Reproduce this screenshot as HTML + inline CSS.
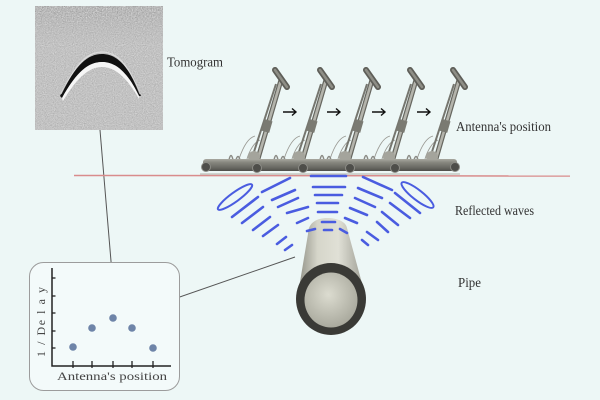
<!DOCTYPE html>
<html><head><meta charset="utf-8">
<style>html,body{margin:0;padding:0;background:#edf7f6;}svg{display:block}</style>
</head>
<body>
<svg width="600" height="400" viewBox="0 0 600 400" xmlns="http://www.w3.org/2000/svg">
<defs>
  <filter id="n" x="0" y="0" width="1" height="1" color-interpolation-filters="sRGB">
    <feTurbulence type="fractalNoise" baseFrequency="0.9" numOctaves="2" seed="7" result="t"/>
    <feColorMatrix in="t" type="matrix" values="0.33 0.33 0.33 0 0 0.33 0.33 0.33 0 0 0.33 0.33 0.33 0 0 0 0 0 0 1"/>
    <feComponentTransfer>
      <feFuncR type="linear" slope="0.45" intercept="0.54"/>
      <feFuncG type="linear" slope="0.45" intercept="0.54"/>
      <feFuncB type="linear" slope="0.45" intercept="0.54"/>
    </feComponentTransfer>
  </filter>
  <filter id="n2" x="0" y="0" width="1" height="1" color-interpolation-filters="sRGB">
    <feTurbulence type="fractalNoise" baseFrequency="0.8" numOctaves="2" seed="3" result="t"/>
    <feColorMatrix in="t" type="matrix" values="0.33 0.33 0.33 0 0 0.33 0.33 0.33 0 0 0.33 0.33 0.33 0 0 0 0 0 0 1"/>
    <feComponentTransfer>
      <feFuncR type="linear" slope="1.2" intercept="0.1"/>
      <feFuncG type="linear" slope="1.2" intercept="0.1"/>
      <feFuncB type="linear" slope="1.2" intercept="0.1"/>
    </feComponentTransfer>
  </filter>
  <linearGradient id="topm" x1="0" y1="0" x2="0" y2="1">
    <stop offset="0" stop-color="#fff" stop-opacity="0.6"/>
    <stop offset="0.3" stop-color="#fff" stop-opacity="0"/>
  </linearGradient>
  <mask id="tm"><rect x="35" y="6" width="128" height="124" fill="url(#topm)"/></mask>
  <linearGradient id="pb" gradientUnits="userSpaceOnUse" x1="297" y1="0" x2="366" y2="0">
    <stop offset="0" stop-color="#8c8c82"/>
    <stop offset="0.3" stop-color="#d6d6ca"/>
    <stop offset="0.6" stop-color="#e0e0d6"/>
    <stop offset="1" stop-color="#98988e"/>
  </linearGradient>
  <radialGradient id="pin" cx="0.45" cy="0.4" r="0.6">
    <stop offset="0" stop-color="#dcdcd0"/>
    <stop offset="1" stop-color="#aaaa9e"/>
  </radialGradient>
  <linearGradient id="deck" x1="0" y1="0" x2="0" y2="1">
    <stop offset="0" stop-color="#a8a8a0"/>
    <stop offset="0.3" stop-color="#86867e"/>
    <stop offset="0.7" stop-color="#6a6a64"/>
    <stop offset="1" stop-color="#4e4e4a"/>
  </linearGradient>
  <g id="u">
    <path d="M-2,-26 C-10,-24 -15,-12 -18,-3" stroke="#9a9a94" fill="none" stroke-width="0.9"/>
    <path d="M3,-22 C-3,-20 -8,-10 -10,-3" stroke="#9a9a94" fill="none" stroke-width="0.9"/>
    <path d="M-28,-2 q2,-9 4,0 M-21,-2 q2,-7 4,0" stroke="#8a8a84" fill="none" stroke-width="1.5"/>
    <line x1="-6" y1="-1" x2="19" y2="-78" stroke="#76766f" stroke-width="2"/>
    <line x1="0" y1="0" x2="24" y2="-82" stroke="#66665f" stroke-width="5"/>
    <line x1="0" y1="0" x2="24" y2="-82" stroke="#b4b4ac" stroke-width="2.6"/>
    <rect x="6" y="-42" width="8" height="12" fill="#7a7a72" transform="rotate(16 10 -36)"/>
    <ellipse cx="-3" cy="-5" rx="6" ry="6" fill="#a4a49c"/>
    <line x1="18" y1="-92" x2="30" y2="-75" stroke="#5e5e58" stroke-width="6" stroke-linecap="round"/>
    <line x1="18" y1="-92" x2="30" y2="-75" stroke="#8e8e86" stroke-width="2.5" stroke-linecap="round"/>
  </g>
</defs>

<rect width="600" height="400" fill="#edf7f6"/>

<!-- Tomogram -->
<rect x="35" y="6" width="128" height="124" fill="#c2c2c2"/>
<rect x="35" y="6" width="128" height="124" filter="url(#n)"/>
<rect x="35" y="6" width="128" height="124" filter="url(#n2)" mask="url(#tm)"/>
<path d="M60,96 C76,64 88,54 102,54 C116,54 128,64 141,96 L139,96 C127,71 115,62 102,62 C89,62 77,71 62,98 Z" fill="#111"/>
<path d="M62,98 C77,71 89,62 102,62 C115,62 127,71 139,96 L139,99 C126,76 114,67 102,67 C90,67 78,76 63,101 Z" fill="#f6f6f6"/>
<path d="M61,94 C76,63 88,52 102,52 C116,52 128,63 140,94" stroke="#e8e8e8" stroke-width="1.2" fill="none" opacity="0.7"/>

<!-- leader lines -->
<line x1="100" y1="130" x2="113" y2="285" stroke="#555" stroke-width="1"/>
<line x1="148" y1="308" x2="295" y2="257" stroke="#555" stroke-width="1"/>

<!-- labels -->
<g font-family="Liberation Serif, serif" fill="#333" font-size="14">
  <text x="167" y="66.5" textLength="56" lengthAdjust="spacingAndGlyphs">Tomogram</text>
  <text x="456" y="131" textLength="95" lengthAdjust="spacingAndGlyphs">Antenna's position</text>
  <text x="455" y="215" textLength="79" lengthAdjust="spacingAndGlyphs">Reflected waves</text>
  <text x="458" y="287" textLength="23" lengthAdjust="spacingAndGlyphs">Pipe</text>
</g>

<!-- ground line -->
<line x1="74" y1="175.5" x2="570" y2="176" stroke="#d98c8c" stroke-width="1.5"/>
<line x1="200" y1="174" x2="460" y2="174" stroke="#b0b0a8" stroke-width="1"/>

<!-- cart -->
<use href="#u" x="257" y="162"/>
<use href="#u" x="302" y="162"/>
<use href="#u" x="348" y="162"/>
<use href="#u" x="392" y="162"/>
<use href="#u" x="435" y="162"/>
<rect x="203" y="159" width="254" height="12" rx="3" fill="url(#deck)"/>
<g fill="#4e4e4a" stroke="#8c8c86" stroke-width="1">
  <circle cx="206" cy="167" r="4.5"/>
  <circle cx="257" cy="168" r="4.5"/>
  <circle cx="303" cy="168" r="4.5"/>
  <circle cx="350" cy="168" r="4.5"/>
  <circle cx="395" cy="168" r="4.5"/>
  <circle cx="455" cy="167" r="4.5"/>
</g>

<!-- arrows -->
<g stroke="#111" stroke-width="1.4" fill="none">
  <path d="M283,112 H296 M292,108.5 L296,112 L292,115.5"/>
  <path d="M327,112 H340 M336,108.5 L340,112 L336,115.5"/>
  <path d="M372,112 H385 M381,108.5 L385,112 L381,115.5"/>
  <path d="M417,112 H430 M426,108.5 L430,112 L426,115.5"/>
</g>

<!-- pipe -->
<path d="M297,300 L308,234 C308,222 318,218 327,218 C338,218 346,222 347,228 L366,298 Z" fill="url(#pb)"/>
<ellipse cx="331" cy="299" rx="35" ry="36" fill="#3a3a36"/>
<ellipse cx="331" cy="300" rx="26.5" ry="27.5" fill="url(#pin)"/>

<!-- waves -->
<g stroke="#4a5ce0" stroke-width="2.6" stroke-linecap="round" fill="none">
  <line x1="262" y1="192" x2="290" y2="178"/>
  <line x1="232" y1="217" x2="258" y2="197"/>
  <line x1="272" y1="200" x2="295" y2="190"/>
  <line x1="242" y1="223" x2="263" y2="207"/>
  <line x1="278" y1="207" x2="298" y2="198"/>
  <line x1="253" y1="230" x2="270" y2="217"/>
  <line x1="287" y1="213" x2="308" y2="207"/>
  <line x1="263" y1="236" x2="278" y2="225"/>
  <line x1="297" y1="223" x2="308" y2="218"/>
  <line x1="277" y1="244" x2="286" y2="237"/>
  <line x1="307" y1="231" x2="315" y2="229"/>
  <line x1="285" y1="250" x2="292" y2="245"/>

  <line x1="363" y1="177" x2="392" y2="190"/>
  <line x1="358" y1="188" x2="382" y2="198"/>
  <line x1="355" y1="198" x2="375" y2="207"/>
  <line x1="350" y1="208" x2="367" y2="215"/>
  <line x1="345" y1="218" x2="357" y2="223"/>
  <line x1="340" y1="229" x2="347" y2="233"/>
  <line x1="395" y1="193" x2="420" y2="213"/>
  <line x1="390" y1="203" x2="410" y2="218"/>
  <line x1="382" y1="212" x2="398" y2="225"/>
  <line x1="377" y1="222" x2="388" y2="232"/>
  <line x1="367" y1="232" x2="378" y2="240"/>
  <line x1="362" y1="240" x2="368" y2="245"/>

  <line x1="311" y1="176" x2="346" y2="176"/>
  <line x1="313" y1="187" x2="345" y2="187"/>
  <line x1="315" y1="195" x2="342" y2="195"/>
  <line x1="317" y1="203" x2="338" y2="203"/>
  <line x1="318" y1="212" x2="337" y2="212"/>
  <line x1="322" y1="222" x2="335" y2="222"/>
  <line x1="324" y1="230" x2="332" y2="230"/>

  <ellipse cx="235" cy="197" rx="21" ry="4.5" stroke-width="2" transform="rotate(-36 235 197)"/>
  <ellipse cx="417.5" cy="195" rx="20" ry="5" stroke-width="2" transform="rotate(38 417.5 195)"/>
</g>

<!-- chart -->
<rect x="29.5" y="262.5" width="150" height="128" rx="14" fill="#f3fafa" stroke="#9c9c9c" stroke-width="1"/>
<path d="M52,268 V366 H171" stroke="#222" stroke-width="1.5" fill="none"/>
<g stroke="#222" stroke-width="1.3">
  <line x1="52" y1="278" x2="55.5" y2="278"/>
  <line x1="52" y1="296" x2="55.5" y2="296"/>
  <line x1="52" y1="313" x2="55.5" y2="313"/>
  <line x1="52" y1="331" x2="55.5" y2="331"/>
  <line x1="52" y1="348" x2="55.5" y2="348"/>
  <line x1="73" y1="361" x2="73" y2="368"/>
  <line x1="92" y1="361" x2="92" y2="368"/>
  <line x1="113" y1="361" x2="113" y2="368"/>
  <line x1="132" y1="361" x2="132" y2="368"/>
  <line x1="153" y1="361" x2="153" y2="368"/>
</g>
<g fill="#6e84a8">
  <circle cx="73" cy="347" r="3.8"/>
  <circle cx="92" cy="328" r="3.8"/>
  <circle cx="113" cy="318" r="3.8"/>
  <circle cx="132" cy="328" r="3.8"/>
  <circle cx="153" cy="348" r="3.8"/>
</g>
<g font-family="Liberation Serif, serif" fill="#444" font-size="12">
  <text x="57" y="380" textLength="110" lengthAdjust="spacingAndGlyphs">Antenna's position</text>
  <text transform="translate(45,322) rotate(-90)" text-anchor="middle" textLength="70" lengthAdjust="spacing">1 / De l a y</text>
</g>
</svg>
</body></html>
